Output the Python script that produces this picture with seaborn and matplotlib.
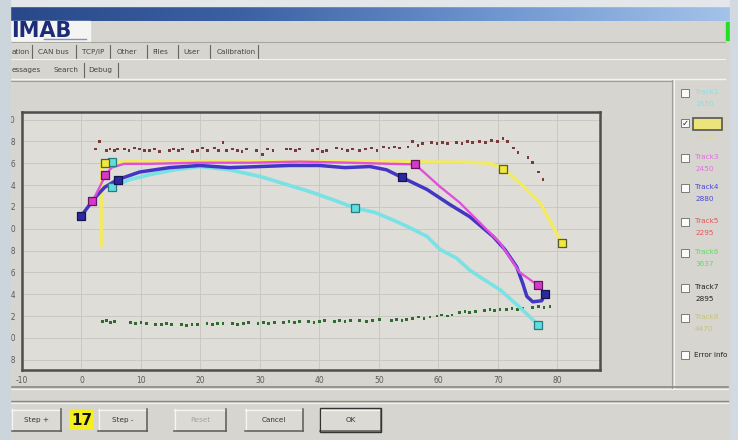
import matplotlib
matplotlib.use("Agg")
import numpy as np
import pandas as pd
import matplotlib.pyplot as plt
import seaborn as sns
from matplotlib.patches import Rectangle
from matplotlib.lines import Line2D
from matplotlib.colors import LinearSegmentedColormap

# ---------------- data ----------------
x_ticks = [-10, 0, 10, 20, 30, 40, 50, 60, 70, 80]
x_tick_labels = ["-10", "0", "10", "20", "30", "40", "50", "60", "70", "80"]
y_ticks = [18, 20, 22, 24, 26, 28, 30, 32, 34, 36, 38, 40]
y_tick_labels = ["18", "20", "22", "24", "26", "28", "30", "32", "34", "36", "38", "40"]

track1_x = [5.2, 8.1, 11.4, 15.7, 19.9, 24.9, 30.0, 34.2, 38.4, 42.6, 46.0, 49.3, 52.4, 55.2, 58.1,
            60.3, 63.1, 65.3, 67.8, 70.4, 73.7, 76.8]
track1_y = [33.85, 34.5, 34.95, 35.4, 35.7, 35.4, 34.8, 34.1, 33.4, 32.6, 31.9, 31.5, 30.8, 30.1, 29.3,
            28.1, 27.3, 26.2, 25.3, 24.4, 22.8, 21.2]
track1_mx = [5.2, 5.2, 46.0, 76.8]
track1_my = [36.1, 33.85, 31.9, 21.2]

track2_x = [3.37, 3.37, 4.04, 10.0, 30.0, 50.0, 65.0, 68.7, 70.9, 73.7, 77.1, 79.3, 80.8]
track2_y = [28.5, 36.0, 36.05, 36.2, 36.2, 36.15, 36.1, 36.0, 35.5, 34.2, 32.4, 30.2, 28.7]
track2_mx = [4.04, 70.9, 80.8]
track2_my = [36.05, 35.5, 28.7]

track3_x = [1.85, 4.04, 5.05, 7.2, 11.4, 19.9, 28.3, 36.7, 45.1, 51.9, 56.1, 60.3, 63.6, 67.0, 70.4,
            71.5, 73.7, 76.8]
track3_y = [32.5, 34.9, 35.6, 35.95, 35.95, 36.05, 36.05, 36.15, 36.05, 35.95, 35.9, 33.85, 32.4,
            30.55, 28.7, 27.8, 26.0, 24.8]
track3_mx = [1.85, 4.04, 56.1, 76.8]
track3_my = [32.5, 34.9, 35.9, 24.8]

track4_x = [0.0, 2.2, 3.9, 6.06, 9.8, 14.8, 19.9, 24.9, 30.0, 35.0, 40.0, 44.3, 48.5, 51.3, 53.9, 58.1,
            62.0, 65.3, 69.2, 71.2, 73.2, 74.2, 74.9, 75.9, 77.4, 77.9]
track4_y = [31.2, 32.8, 33.8, 34.5, 35.2, 35.6, 35.8, 35.6, 35.7, 35.8, 35.8, 35.6, 35.7, 35.4, 34.7,
            33.6, 32.2, 31.1, 29.3, 28.1, 26.5, 25.0, 23.8, 23.3, 23.4, 24.0]
track4_mx = [0.0, 6.06, 53.9, 77.9]
track4_my = [31.2, 34.5, 34.7, 24.0]

dots_a_x = [2.4, 3.0, 4.2, 4.8, 5.5, 6.1, 7.2, 8.0, 8.9, 9.8, 10.6, 11.4, 12.3, 13.1, 14.8, 15.5, 16.3,
            17.0, 18.7, 19.5, 20.4, 21.2, 22.4, 23.1, 23.8, 24.4, 25.4, 26.2, 27.0, 27.8, 29.5, 30.4,
            31.3, 32.2, 34.5, 35.2, 36.0, 36.7, 38.9, 39.7, 40.5, 41.2, 42.9, 43.8, 44.7, 45.6, 46.8,
            47.8, 48.8, 49.7, 50.8, 51.7, 52.6, 53.5, 54.9, 55.7, 56.6, 57.4, 58.9, 59.8, 60.7, 61.6,
            63.1, 64.0, 64.9, 65.8, 67.0, 68.0, 69.0, 69.9, 70.9, 71.7, 72.6, 73.4, 75.1, 75.9, 76.8,
            77.6]
dots_a_y = [37.3, 38.0, 37.2, 37.3, 37.2, 37.3, 37.3, 37.2, 37.4, 37.3, 37.2, 37.2, 37.3, 37.1, 37.2,
            37.3, 37.2, 37.3, 37.1, 37.2, 37.4, 37.2, 37.4, 37.2, 37.9, 37.2, 37.3, 37.2, 37.1, 37.3,
            37.2, 36.8, 37.3, 37.2, 37.3, 37.3, 37.2, 37.3, 37.2, 37.3, 37.1, 37.2, 37.4, 37.3, 37.2,
            37.3, 37.2, 37.3, 37.4, 37.2, 37.5, 37.4, 37.5, 37.4, 37.5, 38.0, 37.6, 37.8, 37.9, 37.8,
            37.9, 37.8, 37.9, 37.8, 38.0, 37.9, 38.0, 37.9, 38.1, 38.0, 38.3, 38.0, 37.4, 37.0, 36.5,
            36.1, 35.2, 34.5]

dots_b_x = [3.5, 4.2, 4.9, 5.6, 8.2, 9.1, 10.0, 10.9, 12.5, 13.4, 14.3, 15.2, 16.8, 17.7, 18.6, 19.5,
            21.1, 22.0, 22.9, 23.8, 25.4, 26.3, 27.2, 28.1, 29.7, 30.6, 31.5, 32.4, 34.0, 34.9, 35.8,
            36.7, 38.2, 39.1, 40.0, 40.9, 42.5, 43.4, 44.3, 45.2, 46.8, 47.9, 49.0, 50.1, 52.2, 53.0,
            53.9, 54.7, 55.7, 56.7, 57.6, 58.6, 59.8, 60.6, 61.5, 62.3, 63.6, 64.5, 65.3, 66.2, 67.8,
            68.7, 69.5, 70.4, 71.5, 72.4, 73.3, 74.2, 75.8, 76.8, 77.8, 78.8]
dots_b_y = [21.5, 21.6, 21.4, 21.5, 21.4, 21.3, 21.4, 21.3, 21.2, 21.2, 21.3, 21.2, 21.2, 21.1, 21.2,
            21.2, 21.3, 21.2, 21.3, 21.3, 21.3, 21.2, 21.3, 21.4, 21.3, 21.4, 21.3, 21.4, 21.4, 21.5,
            21.4, 21.5, 21.5, 21.4, 21.5, 21.6, 21.5, 21.6, 21.5, 21.6, 21.6, 21.5, 21.6, 21.7, 21.6,
            21.7, 21.6, 21.7, 21.8, 21.9, 21.8, 21.9, 22.0, 22.1, 22.0, 22.1, 22.3, 22.4, 22.3, 22.4,
            22.5, 22.6, 22.5, 22.6, 22.6, 22.7, 22.6, 22.7, 22.8, 22.9, 22.8, 22.9]

legend_names = ["Track1", "", "Track3", "Track4", "Track5", "Track6", "Track7", "Track8"]
legend_values = ["1650", "2270", "2450", "2880", "2295", "3637", "2895", "4470"]
legend_colors = ["#86e2e4", "#e6dc6a", "#e070e0", "#4848d8", "#e05858", "#5ce05c", "#222222", "#c8c274"]

tab_labels = ["ation", "CAN bus", "TCP/IP", "Other", "Files", "User", "Calibration"]
subtab_labels = ["essages", "Search", "Debug"]
button_labels = ["Step +", "Step -", "Reset", "Cancel", "OK"]
step_value = "17"

# ---------------- figure ----------------
W, H = 738, 440
fig = plt.figure(figsize=(W / 100, H / 100), dpi=100)
fig.patch.set_facecolor("#d7d5cf")


def fx(px):
    return px / W


def fy(py):
    return 1 - py / H


def rect(px0, py0, px1, py1, z=1, **kw):
    fig.add_artist(Rectangle((fx(px0), fy(py1)), (px1 - px0) / W, (py1 - py0) / H,
                             transform=fig.transFigure, zorder=z, **kw))


def hline(px0, px1, py, color, lw=1.0, z=2):
    fig.add_artist(Line2D([fx(px0), fx(px1)], [fy(py), fy(py)], transform=fig.transFigure,
                          color=color, lw=lw, zorder=z))


def vline(px, py0, py1, color, lw=1.0, z=2):
    fig.add_artist(Line2D([fx(px), fx(px)], [fy(py0), fy(py1)], transform=fig.transFigure,
                          color=color, lw=lw, zorder=z))


# top strip and title bar
rect(0, 0, W, 6, z=1, color="#e4e7ea")
tb = fig.add_axes([0, fy(21), 1, 15 / H])
grad = np.linspace(0, 1, 256).reshape(1, -1)
cmap = LinearSegmentedColormap.from_list("tb", ["#284788", "#3c62a4", "#6d95cf", "#a6c4ea"])
tb.imshow(grad, aspect="auto", cmap=cmap, extent=[0, 1, 0, 1])
tb.set_axis_off()

# logo row
rect(10, 21, 90, 42, z=2, color="#f4f4f2")
fig.text(fx(11.5), fy(31), "IMAB", fontsize=15, fontweight="bold", color="#1c2c78",
         va="center", ha="left", family="DejaVu Sans", zorder=3)
hline(44, 86, 39, "#8890b8", lw=1.0, z=3)
hline(10, 725, 42, "#a8a6a0", lw=0.8)
rect(726, 22, 730, 40, z=2, color="#22e022")

# tabs
tab_x = [12, 38, 82, 117, 152, 183, 217]
tab_sep = [32, 76, 110, 147, 178, 210, 258]
for t, x0 in zip(tab_labels, tab_x):
    fig.text(fx(x0), fy(52), t, fontsize=5.2, color="#444444", va="center", ha="left")
for s in tab_sep:
    vline(s, 45, 59, "#666666", lw=0.8)
hline(10, 725, 59.5, "#f2f2f0", lw=0.8)
sub_x = [12, 54, 88]
for t, x0 in zip(subtab_labels, sub_x):
    fig.text(fx(x0), fy(70), t, fontsize=5.2, color="#444444", va="center", ha="left")
vline(84, 63, 77, "#666666", lw=0.8)
vline(118, 63, 77, "#666666", lw=0.8)
hline(10, 725, 79, "#f4f4f2", lw=1.0)

# chart panel and legend panel
hline(10, 672, 81, "#a09e98", lw=0.8)
vline(672, 80, 388, "#a09e98", lw=0.8)
vline(673.5, 80, 388, "#f4f4f2", lw=0.8)

# ---------------- main axes ----------------
x0p, x1p, y0p, y1p = 22, 600, 112, 370
ax = fig.add_axes([fx(x0p), fy(y1p), (x1p - x0p) / W, (y1p - y0p) / H])
ax.set_facecolor("#dfddd8")

df1 = pd.DataFrame({"x": track1_x, "y": track1_y})
df2 = pd.DataFrame({"x": track2_x, "y": track2_y})
df3 = pd.DataFrame({"x": track3_x, "y": track3_y})
df4 = pd.DataFrame({"x": track4_x, "y": track4_y})
dfa = pd.DataFrame({"x": dots_a_x, "y": dots_a_y})
dfb = pd.DataFrame({"x": dots_b_x, "y": dots_b_y})

sns.scatterplot(data=dfa, x="x", y="y", ax=ax, s=4, color="#7a3a3a", edgecolor="none", marker="s", zorder=3)
sns.scatterplot(data=dfb, x="x", y="y", ax=ax, s=4, color="#2f6a2f", edgecolor="none", marker="s", zorder=3)

sns.lineplot(data=df1, x="x", y="y", ax=ax, sort=False, estimator=None, color="#78e2e4", lw=2.6, zorder=4)
sns.lineplot(data=df2, x="x", y="y", ax=ax, sort=False, estimator=None, color="#f2ea60", lw=2.4, zorder=4)
sns.lineplot(data=df4, x="x", y="y", ax=ax, sort=False, estimator=None, color="#4436c4", lw=2.5, zorder=5)
sns.lineplot(data=df3, x="x", y="y", ax=ax, sort=False, estimator=None, color="#e050dc", lw=1.7, zorder=5)

mk = dict(marker="s", s=28, linewidth=0.9, zorder=7)
sns.scatterplot(x=track1_mx, y=track1_my, ax=ax, color="#62dcdc", edgecolor="#2a7c80", **mk)
sns.scatterplot(x=track2_mx, y=track2_my, ax=ax, color="#f0e840", edgecolor="#5c5a20", **mk)
sns.scatterplot(x=track3_mx, y=track3_my, ax=ax, color="#d838c8", edgecolor="#601860", **mk)
sns.scatterplot(x=track4_mx, y=track4_my, ax=ax, color="#2a2aa0", edgecolor="#141450", **mk)

ax.set_xlim(-10, 87.2)
ax.set_ylim(17.05, 40.7)
ax.set_xticks(x_ticks)
ax.set_xticklabels(x_tick_labels)
ax.set_yticks(y_ticks)
ax.set_yticklabels(y_tick_labels)
ax.tick_params(axis="both", length=0, labelsize=5.5, labelcolor="#5a5a5a")
ax.tick_params(axis="y", pad=4.5)
ax.tick_params(axis="x", pad=4)
ax.set_xlabel("")
ax.set_ylabel("")
ax.grid(True, color="#c6c4be", lw=0.6)
ax.set_axisbelow(True)
for sp in ax.spines.values():
    sp.set_color("#4e4e4e")
    sp.set_linewidth(1.8)

# ---------------- legend panel ----------------
cb_y = [93, 123, 158, 188, 222, 253, 288, 318]
for i, (n, v, c) in enumerate(zip(legend_names, legend_values, legend_colors)):
    yy = cb_y[i]
    rect(681, yy - 4, 689, yy + 4, z=3, facecolor="#fbfbfb", edgecolor="#7a7a7a", lw=0.7)
    if i == 1:
        fig.text(fx(682), fy(yy + 0.5), "✓", fontsize=6, color="#222222", va="center", ha="left", zorder=4)
        rect(693, 118, 722, 130, z=3, facecolor="#ece37a", edgecolor="#555555", lw=1.2)
        fig.text(fx(695), fy(138), v, fontsize=5.2, color=c, va="center", ha="left")
    else:
        fig.text(fx(695), fy(yy - 1), n, fontsize=5.2, color=c, va="center", ha="left")
        fig.text(fx(695), fy(yy + 11), v, fontsize=5.2, color=c, va="center", ha="left")
rect(681, 351, 689, 359, z=3, facecolor="#fbfbfb", edgecolor="#7a7a7a", lw=0.7)
fig.text(fx(694), fy(355), "Error info", fontsize=5.2, color="#222222", va="center", ha="left")

# ---------------- bottom area ----------------
hline(10, 728, 387, "#8a8882", lw=1.2)
hline(10, 728, 389, "#f2f2f0", lw=0.8)
hline(10, 728, 401, "#8a8882", lw=1.0)
hline(10, 728, 402.5, "#f2f2f0", lw=0.8)

btn_pos = [(11, 61), (98, 147), (174, 226), (245, 303), (320, 381)]
for lab, (b0, b1) in zip(button_labels, btn_pos):
    rect(b0, 409, b1, 431, z=2, facecolor="#dcdad4", edgecolor="none")
    hline(b0, b1, 409.5, "#f6f6f4", lw=0.9, z=3)
    vline(b0 + 0.5, 409, 431, "#f6f6f4", lw=0.9, z=3)
    hline(b0, b1, 430.5, "#5a5a5a", lw=1.1, z=3)
    vline(b1 - 0.5, 409, 431, "#5a5a5a", lw=1.1, z=3)
    col = "#a8a6a0" if lab == "Reset" else "#333333"
    fig.text(fx((b0 + b1) / 2), fy(420), lab, fontsize=5.2, color=col, va="center", ha="center", zorder=4)
rect(320, 408, 381, 432, z=3, facecolor="none", edgecolor="#333333", lw=1.0)
rect(69, 410, 94, 430, z=2, facecolor="#f5ef1e", edgecolor="none")
fig.text(fx(81.5), fy(420), step_value, fontsize=11, fontweight="bold", color="#111111",
         va="center", ha="center", zorder=4)

# side strips (window cropped edges)
rect(0, 0, 10, H, z=20, color="#cdd5dc")
rect(730, 0, W, H, z=20, color="#d2d9e0")

fig.savefig("out.png", dpi=100, facecolor=fig.get_facecolor())
